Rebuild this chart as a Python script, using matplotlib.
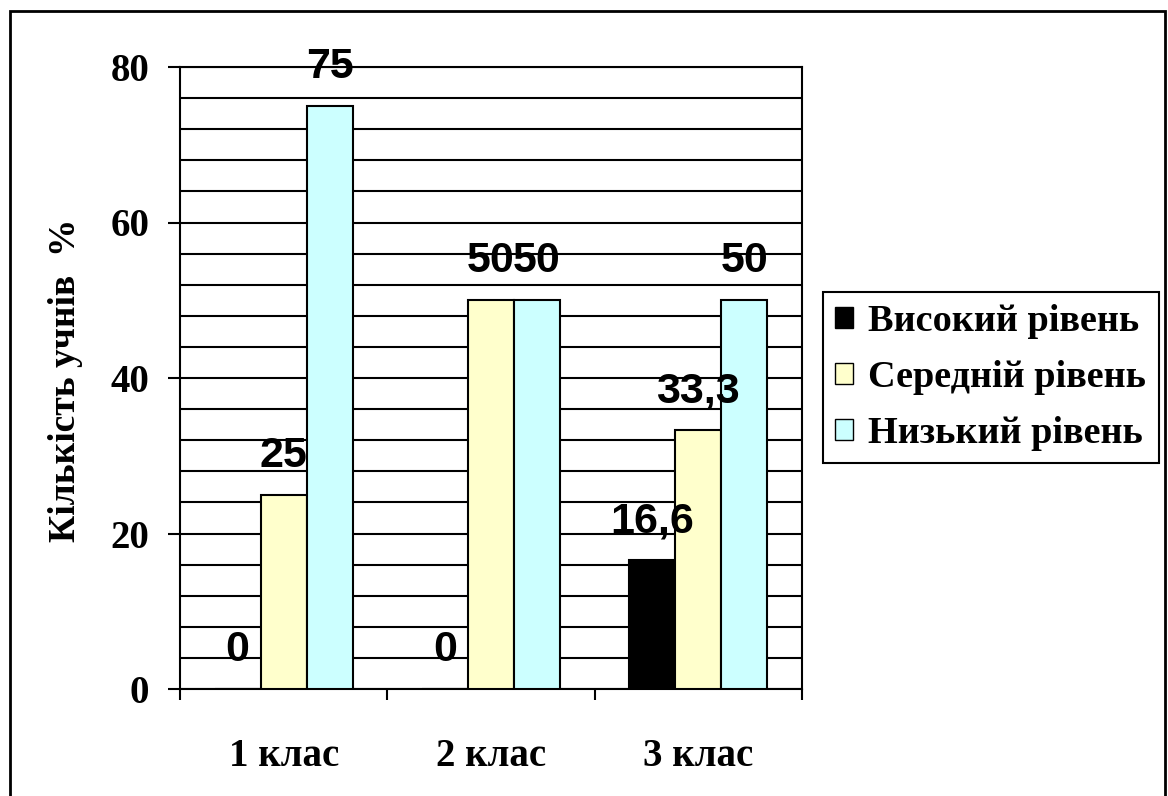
import matplotlib

matplotlib.use("Agg")

import matplotlib.pyplot as plt
import numpy as np
from matplotlib.patches import Rectangle
from matplotlib.ticker import FixedLocator, MultipleLocator

# Share of pupils (%) per level of achievement, by class
classes = ["1 клас", "2 клас", "3 клас"]
levels = ["Високий рівень", "Середній рівень", "Низький рівень"]
high = [0, 0, 16.6]
middle = [25, 50, 33.3]
low = [75, 50, 50]
colors = ["#000000", "#FFFFCC", "#CCFFFF"]
y_label = "Кількість учнів  %"

SERIF = "Liberation Serif"
SANS = "Liberation Sans"
W, H, DPI = 1168, 796, 100


def fmt(v):
    return f"{v:g}".replace(".", ",")


fig = plt.figure(figsize=(W / DPI, H / DPI), dpi=DPI)
ax = fig.add_axes([180 / W, 1 - 689 / H, 622 / W, 622 / H])

width = 1 / 4.5
centers = np.arange(len(classes)) + 0.5
handles = []
for i, (vals, color, name) in enumerate(zip((high, middle, low), colors, levels)):
    xs = centers + (i - 1) * width
    bars = ax.bar(xs, vals, width=width, color=color, edgecolor="black",
                  linewidth=1.5, label=name, zorder=3)
    handles.append(bars)
    for x, v in zip(xs, vals):
        ax.annotate(fmt(v), (x, v), xytext=(0, 20), textcoords="offset points",
                    ha="center", va="baseline", fontsize=31, fontweight="bold",
                    family=SANS, zorder=5)

ax.set_xlim(0, 3)
ax.set_ylim(0, 80)
ax.yaxis.set_major_locator(MultipleLocator(20))
ax.yaxis.set_minor_locator(MultipleLocator(4))
ax.grid(which="both", axis="y", color="black", linewidth=1.5, zorder=1)
ax.set_axisbelow(True)
ax.tick_params(axis="y", which="major", length=9, width=1.5, direction="out",
               pad=13, labelsize=28)
ax.tick_params(axis="y", which="minor", length=0)
for lab in ax.get_yticklabels():
    lab.set_family(SERIF)
    lab.set_fontweight("bold")

ax.xaxis.set_major_locator(FixedLocator([0, 1, 2, 3]))
ax.xaxis.set_minor_locator(FixedLocator(centers))
ax.set_xticklabels([])
ax.set_xticklabels(classes, minor=True)
ax.tick_params(axis="x", which="major", length=8, width=1.5, direction="out")
ax.tick_params(axis="x", which="minor", length=0, pad=35, labelsize=28)
for lab in ax.get_xticklabels(minor=True):
    lab.set_family(SERIF)
    lab.set_fontweight("bold")

for side in ("left", "bottom", "right", "top"):
    ax.spines[side].set_linewidth(1.5)

fig.text(66 / W, 1 - 380 / H, y_label, rotation=90, ha="center", va="center",
         fontsize=27, fontweight="bold", family=SERIF)

leg = fig.legend(handles=handles, loc="upper left",
                 bbox_to_anchor=(823 / W, 1 - 292 / H), borderaxespad=0,
                 prop={"family": SERIF, "weight": "bold", "size": 27.5},
                 fancybox=False, framealpha=1, edgecolor="black",
                 handlelength=0.47, handleheight=0.47, handletextpad=0.4,
                 labelspacing=0.55, borderpad=0.32)
leg.get_frame().set_linewidth(1.5)
for patch in leg.get_patches():
    patch.set_linewidth(1.0)

fig.add_artist(Rectangle((10 / W, -0.01), 1155 / W, 1 - 11 / H + 0.01,
                         transform=fig.transFigure, fill=False,
                         edgecolor="black", linewidth=2))

fig.savefig("out.png", dpi=DPI, facecolor="white")
